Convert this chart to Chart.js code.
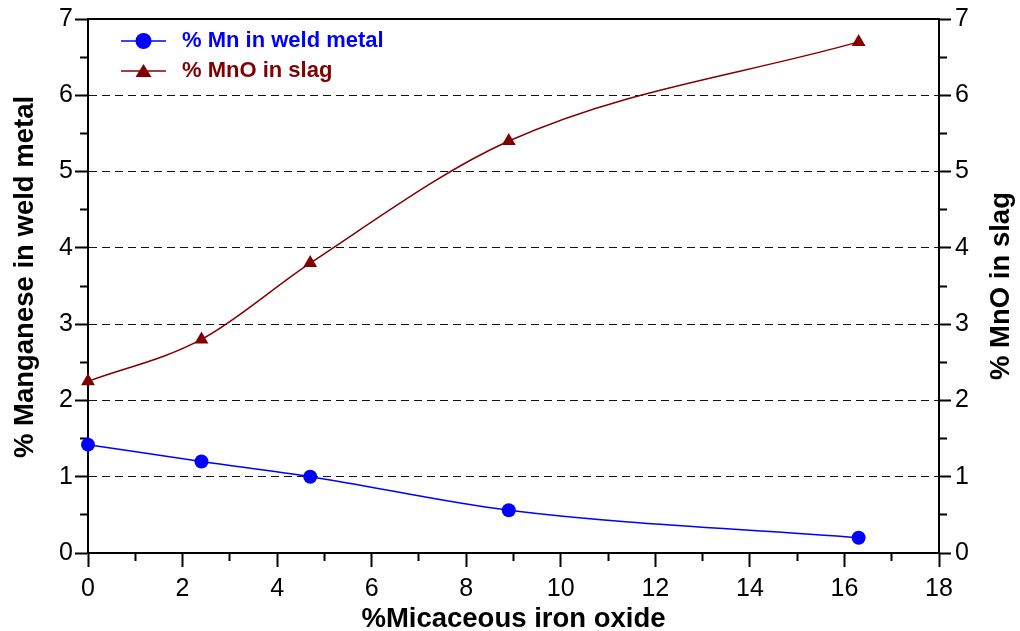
<!DOCTYPE html>
<html>
<head>
<meta charset="utf-8">
<script src="https://cdn.jsdelivr.net/npm/chart.js@4.4.1/dist/chart.umd.min.js"></script>
<style>
  html, body { margin: 0; padding: 0; background: #fff; }
  #wrap { width: 1020px; height: 631px; }
</style>
</head>
<body>
<div id="wrap"><canvas id="graficoMn"></canvas></div>
<script>
const ironOxide = [0, 2.4, 4.7, 8.9, 16.3];
const mnWeldMetal = [1.42, 1.2, 1.0, 0.56, 0.2];
const mnoSlag = [2.25, 2.8, 3.8, 5.4, 6.7];

const xMax = 18;
const yMax = 7;

const blue = "#0000ff";
const maroon = "#800000";
const fontFamily = "'Liberation Sans', Arial, sans-serif";

const toPoints = (xs, ys) => xs.map((x, i) => ({ x: x, y: ys[i] }));

const isMajor = (v, step) => Math.abs(v / step - Math.round(v / step)) < 1e-6;

// small line + marker picture used as legend symbol
const legendIcon = (color, style) => {
  const c = document.createElement("canvas");
  c.width = 75;
  c.height = 20;
  const g = c.getContext("2d");
  g.strokeStyle = color;
  g.fillStyle = color;
  g.lineWidth = 1.5;
  g.beginPath();
  g.moveTo(25, 10);
  g.lineTo(70, 10);
  g.stroke();
  g.beginPath();
  if (style === "circle") {
    g.arc(47.5, 10, 8, 0, Math.PI * 2);
  } else {
    g.moveTo(47.5, 3);
    g.lineTo(55.5, 16);
    g.lineTo(39.5, 16);
    g.closePath();
  }
  g.fill();
  return c;
};

const legendIcons = [legendIcon(blue, "circle"), legendIcon(maroon, "triangle")];

// both y titles read bottom to top
const sideTitles = {
  id: "sideTitles",
  afterDraw(chart) {
    const ctx = chart.ctx;
    const draw = (text, x, y) => {
      ctx.save();
      ctx.translate(x, y);
      ctx.rotate(-Math.PI / 2);
      ctx.font = "bold 27.5px " + fontFamily;
      ctx.fillStyle = "#000";
      ctx.textAlign = "center";
      ctx.textBaseline = "middle";
      ctx.fillText(text, 0, 0);
      ctx.restore();
    };
    const left = chart.scales.y;
    const right = chart.scales.y2;
    draw("% Manganese in weld metal", left.left + 25, (left.top + left.bottom) / 2 - 9);
    draw("% MnO in slag", right.right - 19, (right.top + right.bottom) / 2);
  },
};

Chart.defaults.color = "#000";
Chart.defaults.font.family = fontFamily;

const tickFont = { family: fontFamily, size: 25 };
const titleFont = { family: fontFamily, size: 27.5, weight: "bold", lineHeight: 0.85 };

const chartMn = new Chart(document.getElementById("graficoMn"), {
  type: "line",
  data: {
    datasets: [
      {
        label: "% Mn in weld metal",
        data: toPoints(ironOxide, mnWeldMetal),
        borderColor: blue,
        backgroundColor: blue,
        borderWidth: 1.5,
        pointStyle: "circle",
        pointRadius: 7,
        pointBorderWidth: 0,
        cubicInterpolationMode: "monotone",
        clip: false,
        yAxisID: "y",
      },
      {
        label: "% MnO in slag",
        data: toPoints(ironOxide, mnoSlag),
        borderColor: maroon,
        backgroundColor: maroon,
        borderWidth: 1.5,
        pointStyle: "triangle",
        pointRadius: 8,
        pointBorderWidth: 0,
        cubicInterpolationMode: "monotone",
        clip: false,
        yAxisID: "y2",
      },
    ],
  },
  options: {
    responsive: true,
    maintainAspectRatio: false,
    animation: false,
    events: [],
    layout: { padding: 0 },
    plugins: {
      tooltip: { enabled: false },
      legend: {
        position: "chartArea",
        align: "start",
        // empty title only pushes the entries down a little
        title: { display: true, text: "", padding: 0, font: { size: 18.3 } },
        labels: {
          usePointStyle: true,
          pointStyleWidth: 75,
          boxHeight: 20,
          padding: 8,
          font: { family: fontFamily, size: 22, weight: "bold" },
          generateLabels: (chart) =>
            chart.data.datasets.map((ds, i) => ({
              text: ds.label,
              fontColor: ds.borderColor,
              pointStyle: legendIcons[i],
              fillStyle: ds.borderColor,
              strokeStyle: ds.borderColor,
              lineWidth: 0,
              hidden: false,
              datasetIndex: i,
            })),
        },
      },
    },
    scales: {
      x: {
        type: "linear",
        position: "bottom",
        min: 0,
        max: xMax,
        afterFit: (s) => { s.height = 78; },
        border: { display: true, color: "#000", width: 2 },
        grid: {
          drawOnChartArea: false,
          tickColor: "#000",
          tickWidth: 2,
          tickLength: 14,
          tickBorderDash: (c) => (isMajor(c.tick.value, 2) ? [] : [7, 100]),
        },
        ticks: {
          stepSize: 1,
          maxTicksLimit: 40,
          autoSkip: false,
          maxRotation: 0,
          padding: 7,
          font: tickFont,
          callback: (v) => (isMajor(v, 2) ? v : ""),
        },
        title: {
          display: true,
          text: "%Micaceous iron oxide",
          font: titleFont,
          padding: { top: 0, bottom: 0 },
        },
      },
      xTop: {
        type: "linear",
        position: "top",
        min: 0,
        max: xMax,
        afterFit: (s) => { s.height = 17; },
        border: { display: true, color: "#000", width: 2 },
        grid: { display: false },
        ticks: { display: false },
      },
      y: {
        type: "linear",
        position: "left",
        min: 0,
        max: yMax,
        afterFit: (s) => { s.width = 88; },
        border: { display: true, color: "#000", width: 2, dash: [8, 5] },
        grid: {
          color: (c) =>
            isMajor(c.tick.value, 1) && c.tick.value > 0 && c.tick.value < yMax ? "#111" : "rgba(0,0,0,0)",
          lineWidth: 1,
          tickColor: "#000",
          tickWidth: 2,
          tickLength: 13,
          tickBorderDash: (c) => (isMajor(c.tick.value, 1) ? [] : [0, 5, 100, 0]),
        },
        ticks: {
          stepSize: 0.5,
          maxTicksLimit: 40,
          autoSkip: false,
          padding: 2,
          font: tickFont,
          callback: (v) => (isMajor(v, 1) ? v : ""),
        },
      },
      y2: {
        type: "linear",
        position: "right",
        min: 0,
        max: yMax,
        afterFit: (s) => { s.width = 81; },
        border: { display: true, color: "#000", width: 2 },
        grid: {
          drawOnChartArea: false,
          tickColor: "#000",
          tickWidth: 2,
          tickLength: 12,
          tickBorderDash: (c) => (isMajor(c.tick.value, 1) ? [] : [7, 100]),
        },
        ticks: {
          stepSize: 0.5,
          maxTicksLimit: 40,
          autoSkip: false,
          padding: 4,
          font: tickFont,
          callback: (v) => (isMajor(v, 1) ? v : ""),
        },
      },
    },
  },
  plugins: [sideTitles],
});
</script>
</body>
</html>
